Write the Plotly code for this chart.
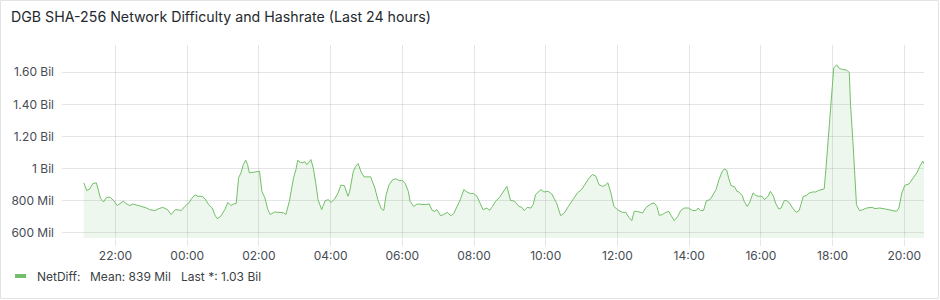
import plotly.graph_objects as go
from datetime import datetime, timedelta

# ---- data ----
title_text = "DGB SHA-256 Network Difficulty and Hashrate (Last 24 hours)"
series_name = "NetDiff"
legend_stats = ["NetDiff:", "Mean: 839 Mil", "Last *: 1.03 Bil"]

# minutes relative to 22:00 on day 1
minutes = [
    -53, -48, -43, -38, -32, -29, -25, -20, -15, -9, -3, 3, 7, 13, 18, 24, 29, 36, 43, 52,
    57, 66, 71, 79, 87, 93, 100, 105, 110, 116, 123, 127, 133, 138, 145, 150, 156, 162, 166, 170,
    176, 183, 188, 193, 199, 202, 206, 210, 214, 218, 221, 224, 231, 236, 241, 245, 250, 255, 259, 266,
    272, 281, 285, 291, 298, 302, 305, 309, 313, 317, 320, 324, 327, 331, 335, 339, 345, 351, 356, 361,
    367, 373, 377, 383, 389, 392, 398, 402, 406, 411, 416, 427, 434, 439, 445, 449, 453, 458, 464, 469,
    475, 480, 485, 490, 493, 499, 505, 512, 518, 525, 530, 534, 538, 544, 549, 555, 561, 566, 572, 577,
    583, 588, 594, 599, 605, 609, 615, 622, 626, 631, 636, 642, 648, 655, 661, 668, 675, 680, 684, 689,
    695, 699, 703, 712, 717, 724, 730, 738, 745, 751, 758, 766, 773, 780, 787, 792, 798, 804, 809, 815,
    819, 824, 829, 834, 840, 848, 854, 859, 864, 868, 873, 882, 888, 896, 901, 906, 910, 915, 921, 926,
    930, 935, 941, 946, 952, 959, 966, 972, 975, 979, 984, 989, 995, 1000, 1005, 1010, 1015, 1019, 1023, 1026,
    1030, 1036, 1040, 1044, 1049, 1052, 1057, 1061, 1067, 1072, 1076, 1082, 1086, 1092, 1096, 1101, 1105, 1110, 1114, 1119,
    1123, 1128, 1133, 1139, 1144, 1147, 1151, 1156, 1161, 1167, 1172, 1176, 1180, 1186, 1189, 1193, 1197, 1200, 1202, 1207,
    1211, 1215, 1220, 1224, 1228, 1230, 1234, 1238, 1240, 1245, 1250, 1257, 1266, 1271, 1279, 1288, 1293, 1301, 1307, 1311,
    1316, 1321, 1328, 1335, 1341, 1346, 1351, 1353,
]

# network difficulty in millions
netdiff_mil = [
    911, 863, 873, 906, 911, 869, 813, 792, 821, 821, 800, 769, 781, 796, 781, 769, 779, 773, 764, 754,
    744, 738, 748, 758, 744, 713, 744, 742, 738, 764, 786, 811, 836, 827, 827, 811, 775, 754, 713, 688,
    702, 744, 789, 769, 781, 781, 942, 973, 1025, 1052, 1025, 973, 979, 979, 983, 858, 817, 744, 713, 729,
    729, 725, 713, 796, 942, 994, 1052, 1039, 1036, 1042, 1025, 1039, 1056, 1004, 911, 806, 744, 800, 806, 789,
    811, 852, 896, 894, 827, 858, 983, 1014, 1031, 979, 948, 948, 879, 806, 748, 739, 838, 900, 931, 936,
    925, 927, 906, 858, 796, 764, 779, 775, 775, 779, 739, 733, 744, 706, 713, 727, 706, 719, 764, 806,
    869, 854, 844, 844, 827, 796, 744, 754, 739, 764, 796, 817, 852, 889, 802, 796, 764, 758, 738, 758,
    754, 775, 838, 869, 854, 858, 842, 786, 706, 723, 764, 806, 848, 869, 911, 938, 963, 952, 900, 889,
    894, 911, 848, 764, 744, 727, 727, 696, 675, 733, 733, 723, 758, 779, 786, 764, 708, 713, 727, 733,
    706, 675, 702, 739, 754, 754, 738, 739, 754, 738, 739, 800, 806, 838, 869, 931, 979, 998, 988, 942,
    894, 886, 858, 852, 831, 796, 764, 786, 848, 831, 827, 827, 806, 827, 858, 827, 781, 748, 754, 800,
    800, 786, 754, 727, 738, 775, 827, 831, 848, 854, 854, 863, 869, 873, 1004, 1213, 1379, 1588, 1629, 1646,
    1625, 1619, 1613, 1613, 1598, 1400, 1171, 921, 775, 738, 742, 754, 758, 750, 754, 748, 744, 742, 733, 754,
    848, 896, 904, 942, 973, 1014, 1046, 1029,
]

y_tick_vals = [600, 800, 1000, 1200, 1400, 1600]
y_tick_text = ["600 Mil", "800 Mil", "1 Bil", "1.20 Bil", "1.40 Bil", "1.60 Bil"]
x_tick_labels = ["22:00", "00:00", "02:00", "04:00", "06:00", "08:00",
                 "10:00", "12:00", "14:00", "16:00", "18:00", "20:00"]

# ---- build ----
base = datetime(2024, 5, 1, 22, 0)
times = [base + timedelta(minutes=m) for m in minutes]
x_tick_vals = [base + timedelta(hours=2 * i) for i in range(len(x_tick_labels))]
x_range = [base + timedelta(minutes=-89.5), base + timedelta(minutes=1353)]

GREEN = "#73BF69"
TEXT = "#464c54"
GRID = "rgba(36,41,46,0.12)"
FONT = "Inter"

W, H = 940, 300
ML, MR, MT, MB = 62, 16, 45, 62

fig = go.Figure()
fig.add_trace(go.Scatter(
    x=times, y=netdiff_mil, mode="lines", name=series_name,
    line=dict(color=GREEN, width=1),
    fill="tozeroy", fillcolor="rgba(115,191,105,0.12)",
    showlegend=False, hoverinfo="skip",
))

def px_x(px):
    return (px - ML) / (W - ML - MR)

def px_y(py):
    return (H - MB - py) / (H - MT - MB)

shapes = [
    dict(type="rect", xref="paper", yref="paper",
         x0=px_x(0.5), x1=px_x(938.5), y0=px_y(298.5), y1=px_y(0.5),
         line=dict(color="#e2e3e5", width=1), fillcolor="rgba(0,0,0,0)", layer="below"),
    dict(type="line", xref="paper", yref="paper",
         x0=px_x(15), x1=px_x(26), y0=px_y(276), y1=px_y(276),
         line=dict(color=GREEN, width=4)),
]

annotations = [
    dict(text=title_text, xref="paper", yref="paper", x=px_x(9), y=px_y(17),
         xanchor="left", yanchor="middle", showarrow=False,
         font=dict(family=FONT, size=14.2, color="#24292e")),
]
legend_x = [35, 87.5, 178.5]
for txt, lx in zip(legend_stats, legend_x):
    annotations.append(dict(text=txt, xref="paper", yref="paper", x=px_x(lx), y=px_y(276),
                            xanchor="left", yanchor="middle", showarrow=False,
                            font=dict(family=FONT, size=12, color="#3b3f45")))

fig.update_layout(
    width=W, height=H,
    margin=dict(l=ML, r=MR, t=MT, b=MB, pad=0),
    paper_bgcolor="white", plot_bgcolor="white",
    font=dict(family=FONT, size=12, color=TEXT),
    shapes=shapes, annotations=annotations,
    xaxis=dict(
        type="date", range=x_range, tickmode="array",
        tickvals=x_tick_vals, ticktext=x_tick_labels,
        showgrid=True, gridcolor=GRID, gridwidth=1,
        ticks="outside", ticklen=7, tickcolor=GRID,
        showline=False, zeroline=False,
        tickfont=dict(family=FONT, size=12, color=TEXT),
    ),
    yaxis=dict(
        range=[567, 1770], tickmode="array",
        tickvals=y_tick_vals, ticktext=y_tick_text,
        showgrid=True, gridcolor=GRID, gridwidth=1,
        ticks="", showline=False, zeroline=False,
        ticklabelstandoff=7,
        tickfont=dict(family=FONT, size=12, color=TEXT),
    ),
)

fig.write_html("out.html")
